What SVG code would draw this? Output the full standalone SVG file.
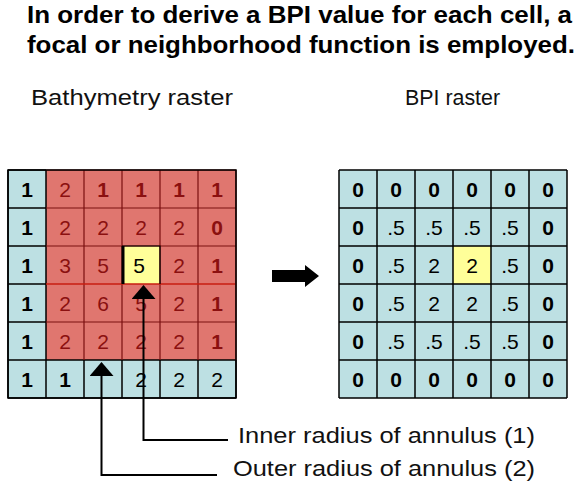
<svg xmlns="http://www.w3.org/2000/svg" width="579" height="494" viewBox="0 0 579 494">
<defs>
<style>
.title{font-family:"Liberation Sans",Arial,sans-serif;font-weight:bold;font-size:24px;fill:#000}
.lbl{font-family:"Liberation Sans",Arial,sans-serif;font-size:22px;fill:#111}
.d{font-family:"Liberation Sans",Arial,sans-serif;font-size:21px;text-anchor:middle}
.b{font-weight:bold}
.k{fill:#000}
.r{fill:#8b1010}
.blue{fill:#bde0e3}
.red{fill:#e0766f}
.yel{fill:#ffff99}
.gk{stroke:#000;stroke-width:1.5;fill:none}
.gr{stroke:#7a1010;stroke-width:1.2;fill:none}
.con{stroke:#000;stroke-width:2;fill:none}
</style>
<marker id="ah" markerUnits="userSpaceOnUse" markerWidth="14" markerHeight="24" viewBox="0 0 14 24" refX="1" refY="12" orient="auto">
<path d="M0,0 L14,12 L0,24 z" fill="#000"/>
</marker>
</defs>
<rect width="579" height="494" fill="#fff"/>

<g id="title">
<text class="title" x="27" y="23" textLength="545" lengthAdjust="spacingAndGlyphs">In order to derive a BPI value for each cell, a</text>
<text class="title" x="27" y="53" textLength="548" lengthAdjust="spacingAndGlyphs">focal or neighborhood function is employed.</text>
</g>

<g id="label-bathymetry">
<text class="lbl" x="31" y="105" textLength="202" lengthAdjust="spacingAndGlyphs">Bathymetry raster</text>
</g>
<g id="label-bpi">
<text class="lbl" x="405" y="105" textLength="95" lengthAdjust="spacingAndGlyphs">BPI raster</text>
</g>

<g id="bathymetry-raster">
<rect class="blue" x="8" y="170" width="228" height="228"/>
<rect class="red" x="46" y="170" width="190" height="190"/>
<rect class="yel" x="122" y="246" width="38" height="38"/>
<path class="gk" d="M8,170H46M8,208H46M8,246H46M8,284H46M8,322H46M8,360H236M8,398H236M8,170V398M46,170V398M84,360V398M122,360V398M160,360V398M198,360V398M236,360V398"/>
<path class="gr" d="M46,170H236M46,208H236M46,246H236M46,322H236M84,170V360M122,170V360M160,170V360M198,170V360M236,170V360"/>
<path d="M46,284H236" stroke="#c81e10" stroke-width="1.5"/>
<path d="M122,246H160V284M160,246V284" stroke="#000" stroke-width="1.2" fill="none"/>
<path d="M123,246V284" stroke="#000" stroke-width="3"/>
<path class="gk" d="M8,170H236V398H8Z"/>
<g class="d">
<text class="k b" x="27" y="197">1</text>
<text class="k b" x="27" y="235">1</text>
<text class="k b" x="27" y="273">1</text>
<text class="k b" x="27" y="311">1</text>
<text class="k b" x="27" y="349">1</text>
<text class="k b" x="27" y="387">1</text>
<text class="r" x="65" y="197">2</text><text class="r b" x="103" y="197">1</text><text class="r b" x="141" y="197">1</text><text class="r b" x="179" y="197">1</text><text class="r b" x="217" y="197">1</text>
<text class="r" x="65" y="235">2</text><text class="r" x="103" y="235">2</text><text class="r" x="141" y="235">2</text><text class="r" x="179" y="235">2</text><text class="r b" x="217" y="235">0</text>
<text class="r" x="65" y="273">3</text><text class="r" x="103" y="273">5</text><text class="k" x="139" y="273">5</text><text class="r" x="179" y="273">2</text><text class="r b" x="217" y="273">1</text>
<text class="r" x="65" y="311">2</text><text class="r" x="103" y="311">6</text><text class="r" x="141" y="311">5</text><text class="r" x="179" y="311">2</text><text class="r b" x="217" y="311">1</text>
<text class="r" x="65" y="349">2</text><text class="r" x="103" y="349">2</text><text class="r" x="141" y="349">2</text><text class="r" x="179" y="349">2</text><text class="r b" x="217" y="349">1</text>
<text class="k b" x="65" y="387">1</text><text class="k" x="141" y="387">2</text><text class="k" x="179" y="387">2</text><text class="k" x="217" y="387">2</text>
</g>
</g>

<g id="bpi-raster">
<rect class="blue" x="339" y="170" width="228" height="228"/>
<rect class="yel" x="453" y="246" width="38" height="38"/>
<path class="gk" d="M339,170H567M339,208H567M339,246H567M339,284H567M339,322H567M339,360H567M339,398H567M339,170V398M377,170V398M415,170V398M453,170V398M491,170V398M529,170V398M567,170V398"/>
<g class="d k">
<text class="b" x="358" y="197">0</text><text class="b" x="396" y="197">0</text><text class="b" x="434" y="197">0</text><text class="b" x="472" y="197">0</text><text class="b" x="510" y="197">0</text><text class="b" x="548" y="197">0</text>
<text class="b" x="358" y="235">0</text><text x="396" y="235">.5</text><text x="434" y="235">.5</text><text x="472" y="235">.5</text><text x="510" y="235">.5</text><text class="b" x="548" y="235">0</text>
<text class="b" x="358" y="273">0</text><text x="396" y="273">.5</text><text x="434" y="273">2</text><text x="472" y="273">2</text><text x="510" y="273">.5</text><text class="b" x="548" y="273">0</text>
<text class="b" x="358" y="311">0</text><text x="396" y="311">.5</text><text x="434" y="311">2</text><text x="472" y="311">2</text><text x="510" y="311">.5</text><text class="b" x="548" y="311">0</text>
<text class="b" x="358" y="349">0</text><text x="396" y="349">.5</text><text x="434" y="349">.5</text><text x="472" y="349">.5</text><text x="510" y="349">.5</text><text class="b" x="548" y="349">0</text>
<text class="b" x="358" y="387">0</text><text class="b" x="396" y="387">0</text><text class="b" x="434" y="387">0</text><text class="b" x="472" y="387">0</text><text class="b" x="510" y="387">0</text><text class="b" x="548" y="387">0</text>
</g>
</g>

<g id="label-inner">
<text class="lbl" x="238" y="443" textLength="297" lengthAdjust="spacingAndGlyphs">Inner radius of annulus (1)</text>
</g>
<g id="label-outer">
<text class="lbl" x="233" y="476" textLength="302" lengthAdjust="spacingAndGlyphs">Outer radius of annulus (2)</text>
</g>

<g id="connectors">
<polygon points="272,270 305,270 305,265 319,276 305,287 305,282 272,282" fill="#000"/>
<path class="con" d="M228,440H143.5V298" marker-end="url(#ah)"/>
<path class="con" d="M217,475H101.5V375" marker-end="url(#ah)"/>
</g>
</svg>
